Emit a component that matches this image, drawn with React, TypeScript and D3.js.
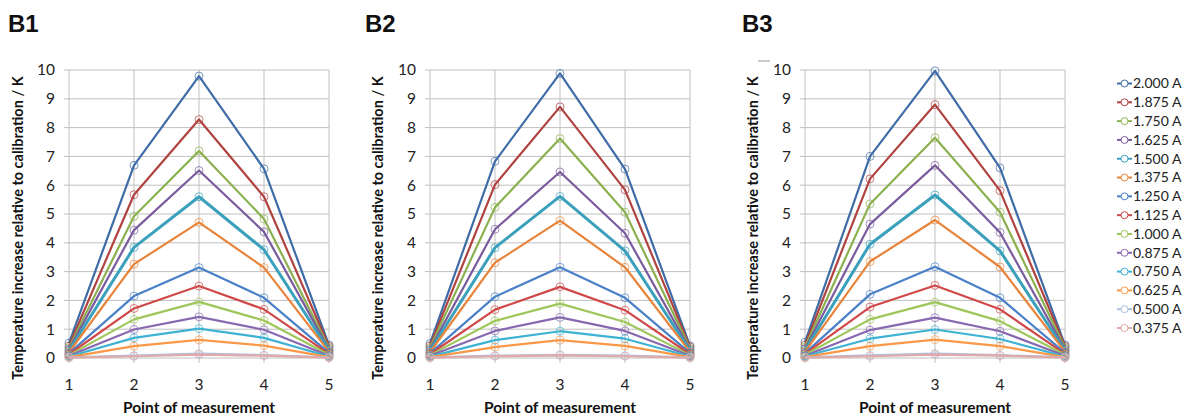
import React from "react";
import * as d3 from "d3";

const seriesNames = ["2.000 A","1.875 A","1.750 A","1.625 A","1.500 A","1.375 A","1.250 A","1.125 A","1.000 A","0.875 A","0.750 A","0.625 A","0.500 A","0.375 A"];
const seriesColors = ["#3f6ca6","#b0423f","#8cb04f","#7a5c9e","#3aa0bb","#e8843a","#4a80c8","#d04848","#9ec65a","#8868b0","#3eb2d2","#f89848","#a9c1e2","#e2a9a9"];
const points = [1, 2, 3, 4, 5];
const yTicks = [0,1,2,3,4,5,6,7,8,9,10];

const dataB1 = [
  [0.52, 6.69, 9.79, 6.57, 0.45],
  [0.42, 5.67, 8.28, 5.60, 0.40],
  [0.36, 4.92, 7.19, 4.83, 0.35],
  [0.30, 4.44, 6.51, 4.38, 0.30],
  [0.25, 3.84, 5.60, 3.76, 0.26],
  [0.20, 3.26, 4.71, 3.14, 0.22],
  [0.16, 2.15, 3.14, 2.09, 0.18],
  [0.13, 1.72, 2.50, 1.69, 0.14],
  [0.10, 1.34, 1.95, 1.30, 0.11],
  [0.08, 0.99, 1.43, 0.98, 0.08],
  [0.05, 0.70, 1.02, 0.70, 0.05],
  [0.03, 0.41, 0.63, 0.43, 0.03],
  [0.02, 0.08, 0.15, 0.10, 0.02],
  [0.01, 0.06, 0.12, 0.08, 0.01],
];
const dataB2 = [
  [0.50, 6.83, 9.88, 6.56, 0.42],
  [0.42, 6.02, 8.72, 5.84, 0.38],
  [0.36, 5.23, 7.62, 5.06, 0.33],
  [0.30, 4.47, 6.46, 4.33, 0.29],
  [0.25, 3.83, 5.61, 3.72, 0.25],
  [0.20, 3.31, 4.77, 3.15, 0.21],
  [0.16, 2.13, 3.15, 2.09, 0.17],
  [0.13, 1.68, 2.47, 1.66, 0.13],
  [0.10, 1.29, 1.89, 1.25, 0.10],
  [0.08, 0.94, 1.41, 0.94, 0.08],
  [0.05, 0.62, 0.93, 0.67, 0.05],
  [0.03, 0.38, 0.62, 0.42, 0.03],
  [0.02, 0.08, 0.11, 0.08, 0.02],
  [0.01, 0.06, 0.09, 0.06, 0.01],
];
const dataB3 = [
  [0.55, 7.00, 9.97, 6.60, 0.45],
  [0.45, 6.22, 8.80, 5.81, 0.40],
  [0.38, 5.35, 7.65, 5.06, 0.35],
  [0.32, 4.65, 6.69, 4.36, 0.30],
  [0.27, 3.95, 5.66, 3.72, 0.26],
  [0.22, 3.35, 4.79, 3.16, 0.22],
  [0.17, 2.21, 3.17, 2.09, 0.18],
  [0.14, 1.77, 2.52, 1.69, 0.14],
  [0.11, 1.34, 1.94, 1.28, 0.11],
  [0.08, 0.97, 1.40, 0.93, 0.08],
  [0.06, 0.67, 0.99, 0.66, 0.05],
  [0.03, 0.41, 0.64, 0.41, 0.03],
  [0.02, 0.09, 0.15, 0.10, 0.02],
  [0.01, 0.06, 0.12, 0.08, 0.01],
];

const panelLabels = ["B1", "B2", "B3"];
const panelData = [dataB1, dataB2, dataB3];

const yTitle = "Temperature increase relative to calibration / K";
const xTitle = "Point of measurement";

const W = 1187, H = 419;
const TOP = 70, BOTTOM = 358, PW = 260;
const panelX = [69, 430, 805];
const labelX = [8, 365, 742];
const titleX = [18, 378, 753];
const FONT = "Lato, 'Open Sans', sans-serif";
const GRID = "#c0c0c0";

function Panel({ idx }: { idx: number }) {
  const x0 = panelX[idx];
  const x = d3.scaleLinear().domain([1, 5]).range([x0, x0 + PW]);
  const y = d3.scaleLinear().domain([0, 10]).range([BOTTOM, TOP]);
  const line = d3.line<number>().x((_, i) => x(points[i])).y((d) => y(d));
  const data = panelData[idx];
  return (
    <g>
      <text x={labelX[idx]} y={32} fontFamily="Liberation Sans, Arial, sans-serif" fontWeight="bold" fontSize={24} fill="#111">{panelLabels[idx]}</text>
      {yTicks.map((t) => (
        <line key={"h" + t} x1={x0 - 5} x2={x0 + PW} y1={y(t)} y2={y(t)} stroke={GRID} strokeWidth={1} />
      ))}
      {points.map((p) => (
        <line key={"v" + p} x1={x(p)} x2={x(p)} y1={TOP} y2={BOTTOM + 5} stroke={GRID} strokeWidth={1} />
      ))}
      {yTicks.map((t) => (
        <text key={"yt" + t} x={x0 - 14} y={y(t)} dy="0.35em" textAnchor="end" fontFamily={FONT} fontSize={15.5} fill="#222">{t}</text>
      ))}
      {points.map((p) => (
        <text key={"xt" + p} x={x(p)} y={385} dy="0.35em" textAnchor="middle" fontFamily={FONT} fontSize={15.5} fill="#222">{p}</text>
      ))}
      <text x={x0 + PW / 2} y={408} dy="0.35em" textAnchor="middle" fontFamily={FONT} fontWeight="bold" fontSize={15.5} fill="#111">{xTitle}</text>
      <text transform={`translate(${titleX[idx]},${228}) rotate(-90)`} dy="0.35em" textAnchor="middle" fontFamily={FONT} fontWeight="bold" fontSize={14.5} fill="#111">{yTitle}</text>
      {data.map((s, si) => (
        <g key={"s" + si}>
          <path d={line(s) || ""} fill="none" stroke={seriesColors[si]} strokeWidth={si === 4 ? 3 : 2.2} strokeLinejoin="round" />
          {s.map((v, i) => (
            <circle key={i} cx={x(points[i])} cy={y(v)} r={4} fill="none" stroke={seriesColors[si]} strokeOpacity={0.7} strokeWidth={1} />
          ))}
        </g>
      ))}
    </g>
  );
}

function Legend() {
  const ly = d3.scaleLinear().domain([0, seriesNames.length - 1]).range([83.5, 328]);
  return (
    <g>
      {seriesNames.map((n, i) => (
        <g key={n}>
          <line x1={1117} x2={1132} y1={ly(i)} y2={ly(i)} stroke={seriesColors[i]} strokeWidth={2} />
          <circle cx={1124.5} cy={ly(i)} r={3.5} fill="white" stroke={seriesColors[i]} strokeWidth={1} />
          <text x={1133} y={ly(i)} dy="0.35em" fontFamily={FONT} fontSize={14} fill="#222">{n}</text>
        </g>
      ))}
    </g>
  );
}

export default function App() {
  return (
    <div style={{ position: "absolute", left: 0, top: 0 }}>
      <svg width={W} height={H} style={{ display: "block", background: "white" }}>
        <rect width={W} height={H} fill="white" />
        {[0, 1, 2].map((i) => <Panel key={i} idx={i} />)}
        <line x1={758} x2={770} y1={61} y2={61} stroke="#999" strokeWidth={1} />
        <Legend />
      </svg>
    </div>
  );
}
